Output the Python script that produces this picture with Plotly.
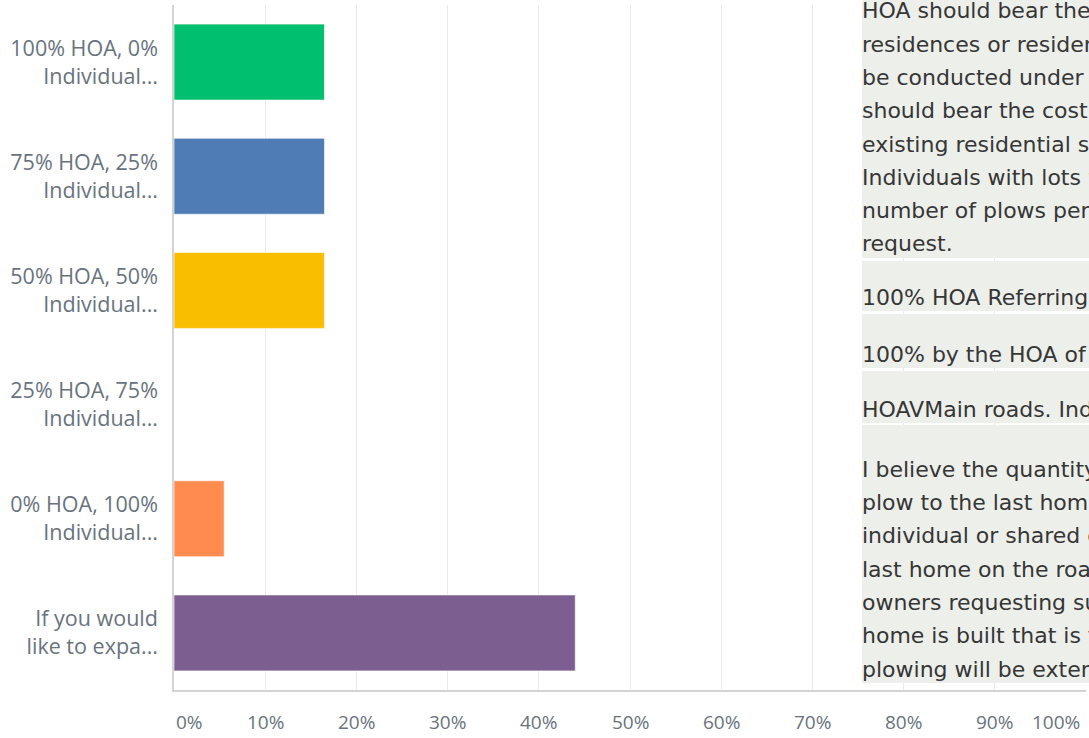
import plotly.graph_objects as go

# survey answers (top to bottom) and share of responses in %
label_lines = [
    ("100% HOA, 0%", "Individual..."),
    ("75% HOA, 25%", "Individual..."),
    ("50% HOA, 50%", "Individual..."),
    ("25% HOA, 75%", "Individual..."),
    ("0% HOA, 100%", "Individual..."),
    ("If you would", "like to expa..."),
]
categories = ["<br>".join(l) for l in label_lines]
values = [16.5, 16.5, 16.5, 0.0, 5.5, 44.0]
colors = ["#00bf6f", "#507cb6", "#f9be00", "#6bc8cd", "#ff8b4f", "#7d5e90"]

x_ticks = [0, 10, 20, 30, 40, 50, 60, 70, 80, 90, 100]
x_tick_labels = [f"{t}%" for t in x_ticks]

# pasted comment table on the right (rows of wrapped lines, clipped by the picture edge)
comment_rows = [
    ["HOA should bear the cost",
     "residences or residents",
     "be conducted under the",
     "should bear the cost of",
     "existing residential structures",
     "Individuals with lots would",
     "number of plows performed",
     "request."],
    ["100% HOA Referring to"],
    ["100% by the HOA of the"],
    ["HOAVMain roads. Individual"],
    ["I believe the quantity of",
     "plow to the last home on",
     "individual or shared drives",
     "last home on the road",
     "owners requesting such",
     "home is built that is further",
     "plowing will be extended"],
]
# pixel rows of the table: (top, bottom)
row_spans = [(-60, 258), (261, 311), (314, 368), (371, 423), (425, 683)]

W, H = 1089, 738
L, R, T, B = 174, 3, 5, 48
plot_h = H - T - B
plot_w = W - L - R


def py(px):
    return (H - B - px) / plot_h


def pxx(px):
    return (px - L) / plot_w


label_color = "#68737d"
font_ui = "Open Sans, sans-serif"

fig = go.Figure()
fig.add_trace(go.Bar(
    x=values,
    y=categories,
    orientation="h",
    marker=dict(color=colors, line=dict(color="rgba(255,255,255,0.6)", width=1)),
    hoverinfo="skip",
))

annotations = []
# x tick labels, kept inside the plot width like the original
for i, (t, txt) in enumerate(zip(x_ticks, x_tick_labels)):
    anchor = "left" if i == 0 else ("right" if i == len(x_ticks) - 1 else "center")
    annotations.append(dict(
        x=t, xref="x", y=0, yref="paper",
        text=txt, showarrow=False, xanchor=anchor, yanchor="middle",
        yshift=-32, xshift=-4 if i == len(x_ticks) - 1 else 0,
        font=dict(family=font_ui, size=19, color=label_color),
    ))

shapes = []
tbl_left = 862
line_step = 33.3
for lines, (top, bottom) in zip(comment_rows, row_spans):
    shapes.append(dict(
        type="rect", xref="paper", yref="paper", layer="above",
        x0=pxx(tbl_left), x1=1.2, y0=py(bottom), y1=py(top),
        fillcolor="#edefea", line=dict(width=0),
    ))
    n = len(lines)
    for j, txt in enumerate(lines):
        yc = bottom - 14 - (n - 1 - j) * line_step
        annotations.append(dict(
            x=pxx(tbl_left), xref="paper", y=py(yc), yref="paper",
            text=txt, showarrow=False, xanchor="left", yanchor="middle",
            xshift=-2,
            font=dict(family="DejaVu Sans, sans-serif", size=22, color="#363636"),
        ))

fig.update_layout(
    width=W, height=H,
    margin=dict(l=L, r=R, t=T, b=B),
    paper_bgcolor="white", plot_bgcolor="white",
    bargap=0.335,
    showlegend=False,
    annotations=annotations,
    shapes=shapes,
)
fig.update_xaxes(
    range=[0, 100], tickvals=x_ticks, showticklabels=False,
    showgrid=True, gridcolor="#ebebeb", gridwidth=1,
    showline=True, linecolor="#d3d3d3", linewidth=1.5, zeroline=False,
)
fig.update_yaxes(
    autorange="reversed", showgrid=False,
    showline=True, linecolor="#d3d3d3", linewidth=1.5,
    tickfont=dict(family=font_ui, size=21.5, color=label_color),
    ticklabelstandoff=10,
)

fig.write_html("out.html", config={"displayModeBar": False},
               post_script="document.body.style.margin='0';")
